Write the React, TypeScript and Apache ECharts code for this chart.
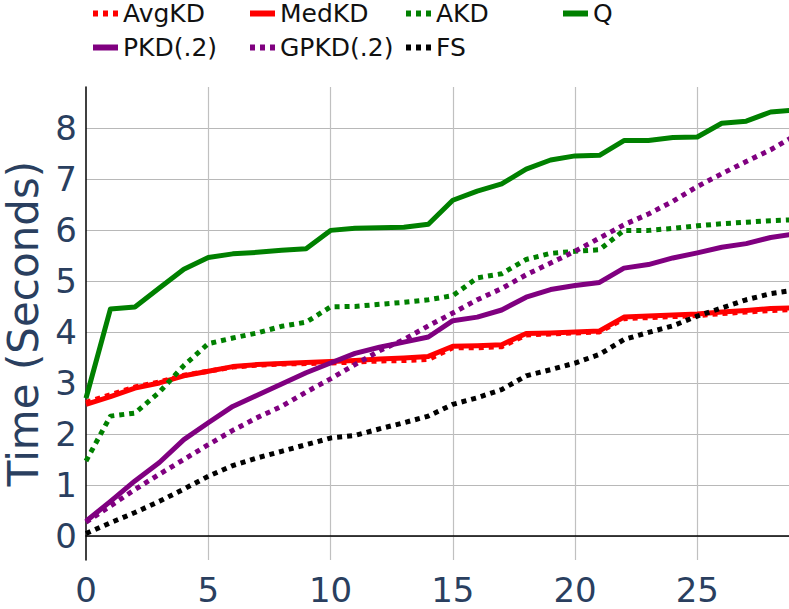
import React, { useEffect, useRef } from "react";
import * as echarts from "echarts";

const xs = [0,1,2,3,4,5,6,7,8,9,10,11,12,13,14,15,16,17,18,19,20,21,22,23,24,25,26,27,28,29];
const avgKD = [2.62,2.77,2.92,3.02,3.15,3.23,3.31,3.35,3.37,3.38,3.39,3.41,3.43,3.44,3.46,3.69,3.69,3.71,3.94,3.96,3.98,4.0,4.26,4.28,4.3,4.32,4.36,4.39,4.42,4.44];
const medKD = [2.58,2.73,2.9,3.0,3.14,3.23,3.32,3.36,3.38,3.4,3.42,3.44,3.47,3.49,3.52,3.72,3.73,3.75,3.97,3.98,4.0,4.02,4.29,4.31,4.33,4.35,4.39,4.42,4.46,4.47];
const aKD = [1.47,2.35,2.41,2.82,3.34,3.77,3.88,3.98,4.11,4.19,4.49,4.5,4.54,4.58,4.63,4.71,5.06,5.14,5.42,5.54,5.58,5.61,5.99,5.99,6.03,6.08,6.12,6.15,6.18,6.2];
const q = [2.7,4.45,4.49,4.86,5.23,5.46,5.53,5.56,5.6,5.63,5.99,6.03,6.04,6.05,6.11,6.58,6.76,6.9,7.19,7.37,7.45,7.46,7.75,7.75,7.81,7.82,8.09,8.13,8.31,8.35];
const pKD = [0.29,0.68,1.08,1.44,1.89,2.22,2.54,2.76,2.98,3.2,3.39,3.58,3.7,3.8,3.9,4.22,4.29,4.43,4.68,4.83,4.91,4.97,5.25,5.32,5.45,5.55,5.66,5.73,5.85,5.92];
const gpKD = [0.27,0.59,0.91,1.21,1.5,1.79,2.07,2.32,2.54,2.82,3.08,3.36,3.63,3.85,4.12,4.37,4.63,4.85,5.12,5.35,5.58,5.84,6.1,6.31,6.56,6.85,7.1,7.34,7.57,7.85];
const fs = [0.05,0.26,0.46,0.68,0.92,1.17,1.38,1.53,1.66,1.79,1.92,1.97,2.1,2.22,2.35,2.58,2.71,2.87,3.14,3.26,3.39,3.56,3.85,3.99,4.12,4.31,4.47,4.63,4.75,4.82];

const seriesDefs = [
  { name: "AvgKD", values: avgKD, color: "#ff0000", dotted: true },
  { name: "MedKD", values: medKD, color: "#ff0000", dotted: false },
  { name: "AKD", values: aKD, color: "#008000", dotted: true },
  { name: "Q", values: q, color: "#008000", dotted: false },
  { name: "PKD(.2)", values: pKD, color: "#800080", dotted: false },
  { name: "GPKD(.2)", values: gpKD, color: "#800080", dotted: true },
  { name: "FS", values: fs, color: "#000000", dotted: true },
];

const legendColumns = [
  ["AvgKD", "PKD(.2)"],
  ["MedKD", "GPKD(.2)"],
  ["AKD", "FS"],
  ["Q"],
];
const legendLefts = [90, 247, 403, 560];

const FONT = "DejaVu Sans";
const AXIS_TEXT = "#2a3f5f";

export default function App() {
  const ref = useRef<HTMLDivElement>(null);
  useEffect(() => {
    if (!ref.current) return;
    const chart = echarts.init(ref.current, undefined, { renderer: "svg" });
    const isInt = (v: number) => Math.abs(v - Math.round(v)) < 1e-6;
    chart.setOption({
      animation: false,
      backgroundColor: "#ffffff",
      textStyle: { fontFamily: FONT },
      legend: legendColumns.map((col, i) => ({
        orient: "vertical",
        left: legendLefts[i],
        top: 1,
        data: col,
        itemWidth: 25,
        itemHeight: 14,
        itemGap: 9,
        padding: 0,
        selectedMode: false,
        textStyle: { fontFamily: FONT, fontSize: 25, color: "#111" },
        itemStyle: { opacity: 0 },
        lineStyle: { width: 6 },
      })),
      grid: { left: 86, right: 0, top: 87, bottom: 49, containLabel: false, outerBoundsMode: "none" },
      xAxis: {
        type: "value",
        min: 0,
        max: 28.75,
        interval: 5,
        axisLine: { show: true, lineStyle: { color: "#000", width: 1.5 } },
        axisTick: { show: false },
        axisLabel: {
          fontFamily: FONT,
          fontSize: 34,
          color: AXIS_TEXT,
          margin: 13,
          formatter: (v: number) => (isInt(v) ? String(Math.round(v)) : ""),
        },
        splitLine: { show: true, showMinLine: false, showMaxLine: false, lineStyle: { color: "#c0c0c0", width: 1.2 } },
      },
      yAxis: {
        type: "value",
        min: -0.47,
        max: 8.8,
        splitNumber: 9,
        name: "Time (Seconds)",
        nameLocation: "middle",
        nameGap: 25,
        nameRotate: 90,
        nameTextStyle: { fontFamily: FONT, fontSize: 42, color: AXIS_TEXT },
        axisLine: { show: true, lineStyle: { color: "#000", width: 1.5 } },
        axisTick: { show: false },
        axisLabel: {
          fontFamily: FONT,
          fontSize: 34,
          color: AXIS_TEXT,
          margin: 9,
          formatter: (v: number) => (isInt(v) ? String(Math.round(v)) : ""),
        },
        splitLine: { show: true, showMinLine: false, showMaxLine: false, lineStyle: { color: "#b8b8b8", width: 1.2 } },
      },
      series: seriesDefs.map((s) => ({
        name: s.name,
        type: "line",
        data: xs.map((x, i) => [x, s.values[i]]),
        symbol: "none",
        clip: true,
        color: s.color,
        lineStyle: {
          color: s.color,
          width: 5,
          type: s.dotted ? [5, 5] : "solid",
          cap: "butt",
          join: "round",
        },
      })),
    });
    return () => chart.dispose();
  }, []);
  return (
    <div
      ref={ref}
      style={{ position: "fixed", left: 0, top: 0, width: 789, height: 609 }}
    />
  );
}
